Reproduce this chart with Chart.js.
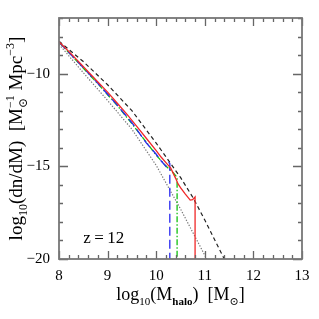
<!DOCTYPE html>
<html>
<head>
<meta charset="utf-8">
<script src="https://cdn.jsdelivr.net/npm/chart.js@4.4.1/dist/chart.umd.min.js"></script>
<style>
    html, body { margin: 0; padding: 0; background: #fff; }
</style>
</head>
<body>
<canvas id="chart" width="319" height="319"></canvas>
<script>
// axis ticks
const xTicks = [8, 9, 10, 11, 12, 13];
const yTicks = [-10, -15, -20];

// analytic mass functions
const massPS = [8.0, 8.5, 9.0, 9.5, 10.0, 10.5, 10.76, 11.0, 11.4];
const dndmPS = [-8.25, -9.35, -10.6, -12.0, -13.75, -15.6, -16.7, -17.9, -20.0];

const massST = [8.0, 8.5, 9.0, 9.5, 10.0, 10.5, 11.0, 11.05];
const dndmST = [-8.42, -9.95, -11.45, -13.0, -14.95, -17.3, -19.8, -20.05];

// simulation runs
const massRed = [8.0, 8.2, 8.4, 8.6, 8.8, 9.0, 9.2, 9.4, 9.6, 9.8, 10.0, 10.1, 10.2, 10.3, 10.4, 10.45, 10.5, 10.6, 10.7, 10.75, 10.8, 10.8];
const dndmRed = [-8.28, -8.8, -9.35, -9.9, -10.45, -11.0, -11.6, -12.2, -12.85, -13.5, -14.15, -14.5, -14.8, -15.1, -15.65, -15.95, -16.15, -16.5, -16.82, -16.8, -16.65, -20.0];

const massBlue = [8.0, 8.4, 8.8, 9.2, 9.5, 9.8, 10.0, 10.1, 10.2, 10.25, 10.28, 10.28];
const dndmBlue = [-8.3, -9.4, -10.52, -11.7, -12.65, -13.75, -14.35, -14.7, -15.0, -14.78, -14.85, -20.0];

const massGreen = [8.0, 8.4, 8.8, 9.2, 9.5, 9.87, 10.0, 10.2, 10.35, 10.43, 10.43];
const dndmGreen = [-8.3, -9.42, -10.55, -11.72, -12.7, -13.95, -14.4, -14.98, -15.35, -15.6, -20.0];

const pts = (xs, ys) => xs.map((x, i) => ({ x: x, y: ys[i] }));
const SERIF = '"Liberation Serif", "DejaVu Serif", serif';

// axis titles with sub/superscripts: [text, size factor, baseline shift, bold, advance]
const xTitle = [['log', 1, 0], ['10', 0.62, 0.28], ['(M', 1, 0], ['halo', 0.62, 0.3, true], [')  [M', 1, 0], ['⊙', 0.62, 0.28], [']', 1, 0]];
const yTitle = [['log', 1, 0], ['10', 0.62, 0.28], ['(dn/dM)  [M', 1, 0], ['⊙', 0.62, 0.28, false, false], ['\u22121', 0.62, -0.42], [' Mpc', 1, 0], ['\u22123', 0.62, -0.42], [']', 1, 0]];

function drawRich(ctx, parts, size) {
    const fontOf = p => (p[3] ? 'bold ' : '') + Math.round(size * p[1]) + 'px ' + SERIF;
    let total = 0;
    parts.forEach(p => { ctx.font = fontOf(p); if (p[4] !== false) total += ctx.measureText(p[0]).width; });
    let x = -total / 2;
    parts.forEach(p => {
        ctx.font = fontOf(p);
        ctx.fillText(p[0], x, p[2] * size);
        if (p[4] !== false) x += ctx.measureText(p[0]).width;
    });
}

// ticks drawn inward on all four sides + frame + labels
const framePlugin = {
    id: 'frame',
    afterDraw(chart) {
        const ctx = chart.ctx;
        const a = chart.chartArea;
        const xs = chart.scales.x, ys = chart.scales.y;
        ctx.save();
        ctx.strokeStyle = '#666';
        ctx.lineWidth = 1.3;
        ctx.beginPath();
        for (let v = 8; v <= 13.001; v += 0.2) {
            const px = Math.round(xs.getPixelForValue(v)) + 0.5;
            const major = Math.abs(v - Math.round(v)) < 0.01;
            const len = major ? 8 : 4;
            ctx.moveTo(px, a.bottom); ctx.lineTo(px, a.bottom - len);
            ctx.moveTo(px, a.top); ctx.lineTo(px, a.top + len);
        }
        for (let v = -20; v <= -7; v += 1) {
            const py = Math.round(ys.getPixelForValue(v)) + 0.5;
            const len = (v % 5 === 0) ? 9 : 4;
            ctx.moveTo(a.left, py); ctx.lineTo(a.left + len, py);
            ctx.moveTo(a.right, py); ctx.lineTo(a.right - len, py);
        }
        ctx.stroke();
        ctx.lineWidth = 1.8;
        ctx.strokeStyle = '#777';
        ctx.strokeRect(a.left, a.top, a.right - a.left, a.bottom - a.top);

        ctx.fillStyle = '#000';
        ctx.textBaseline = 'alphabetic';
        // redshift label
        ctx.font = '17px ' + SERIF;
        ctx.fillText('z\u2009=\u200912', xs.getPixelForValue(8.5), ys.getPixelForValue(-19.15));
        // x title
        ctx.save();
        ctx.translate((a.left + a.right) / 2, 300);
        drawRich(ctx, xTitle, 18);
        ctx.restore();
        // y title
        ctx.save();
        ctx.translate(22, (a.top + a.bottom) / 2);
        ctx.rotate(-Math.PI / 2);
        drawRich(ctx, yTitle, 19);
        ctx.restore();
        ctx.restore();
    }
};

const line = (data, color, dash, width) => ({
    data: data,
    borderColor: color,
    borderWidth: width,
    borderDash: dash,
    pointRadius: 0,
    fill: false,
    tension: 0
});

new Chart(document.getElementById('chart'), {
    type: 'line',
    data: {
        datasets: [
            line(pts(massRed, dndmRed), '#f02828', [], 1.3),
            line(pts(massBlue, dndmBlue), '#2828f0', [9, 4], 1.3),
            line(pts(massGreen, dndmGreen), '#10c010', [6, 2, 1.5, 2], 1.3),
            line(pts(massPS, dndmPS), '#222', [4, 3], 1.2),
            line(pts(massST, dndmST), '#777', [1.3, 1.6], 1.2)
        ]
    },
    options: {
        responsive: false,
        animation: false,
        layout: { padding: { top: 18, right: 17, left: 0, bottom: 0 } },
        plugins: { legend: { display: false }, tooltip: { enabled: false } },
        scales: {
            x: {
                type: 'linear',
                min: 8, max: 13,
                grid: { display: false, drawTicks: false },
                border: { display: false },
                afterBuildTicks: s => { s.ticks = xTicks.map(v => ({ value: v })); },
                afterFit: s => { s.height = 60; },
                ticks: { color: '#000', padding: 8, font: { family: SERIF, size: 15 }, maxRotation: 0 }
            },
            y: {
                type: 'linear',
                min: -20, max: -7,
                grid: { display: false, drawTicks: false },
                border: { display: false },
                afterBuildTicks: s => { s.ticks = yTicks.map(v => ({ value: v })); },
                afterFit: s => { s.width = 59; },
                ticks: {
                    color: '#000', padding: 9,
                    font: { family: SERIF, size: 15 },
                    callback: v => '\u2212' + Math.abs(v)
                }
            }
        }
    },
    plugins: [framePlugin]
});
</script>
</body>
</html>
